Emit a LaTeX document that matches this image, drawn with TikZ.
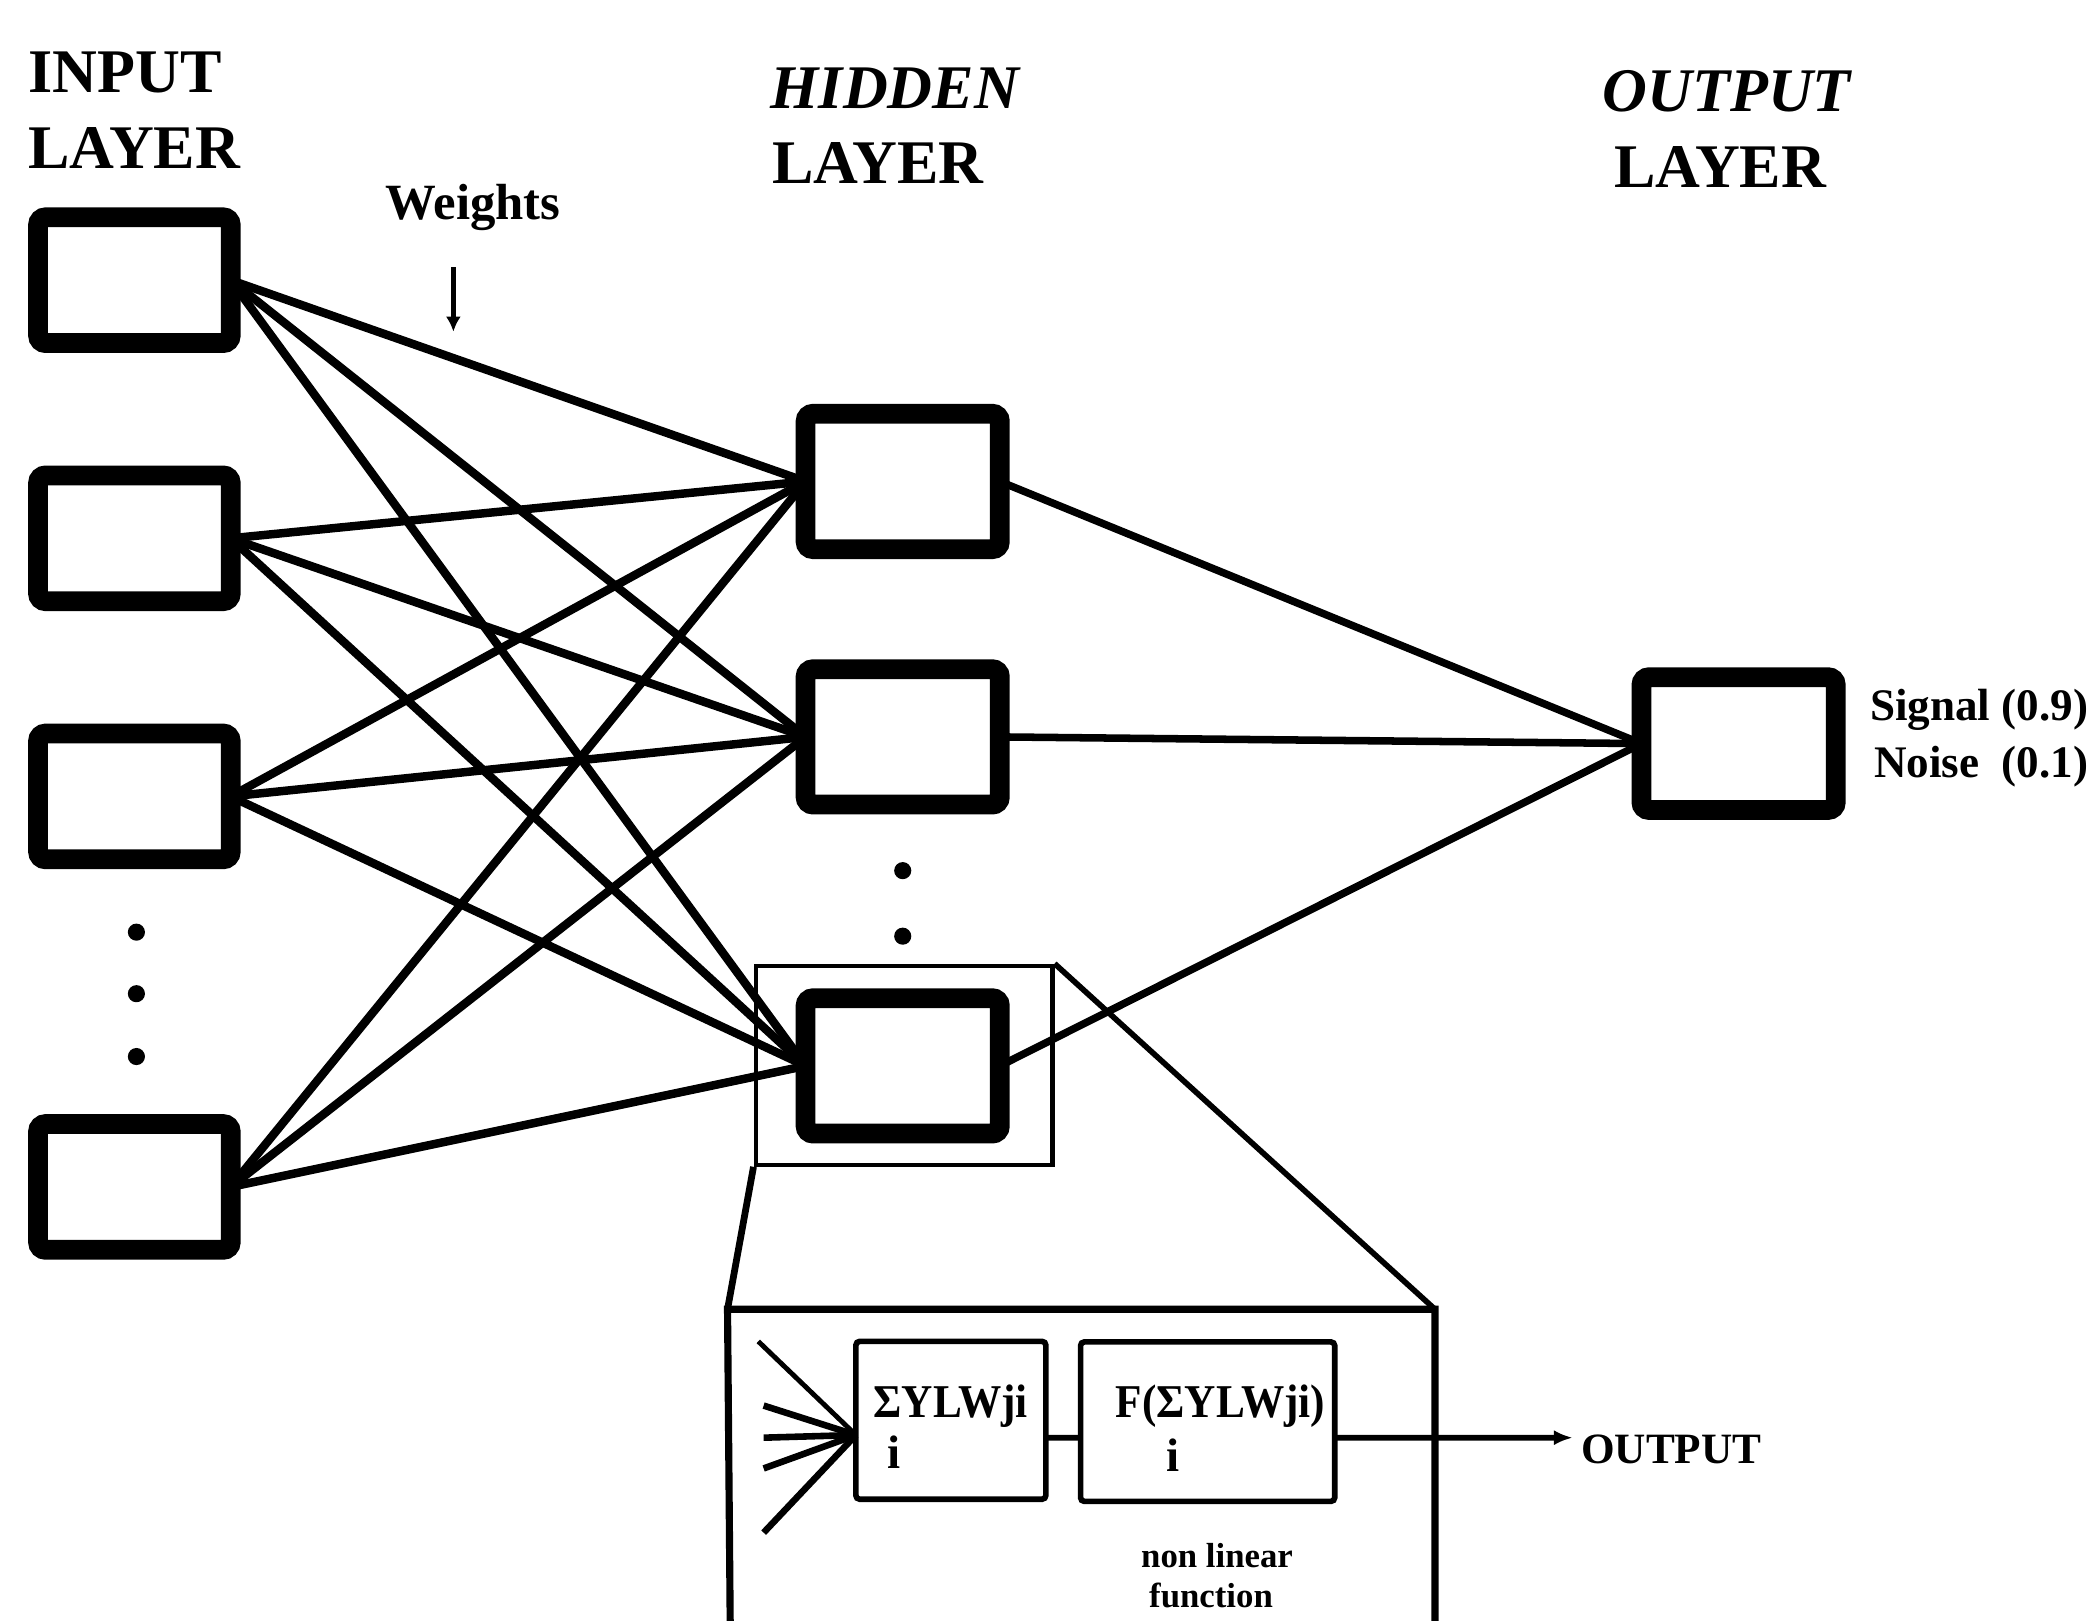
\documentclass[tikz,border=0pt]{standalone}
\usepackage{fontspec}
\setmainfont{Liberation Serif}
\usetikzlibrary{arrows.meta}
\newcommand{\cnd}[1]{\scalebox{0.92}[1]{#1}}
\begin{document}
\begin{tikzpicture}[x=0.025cm,y=-0.025cm,
  bigbox/.style={draw, line width=10.5pt, rounded corners=4pt, inner sep=0pt, outer sep=0pt},
  inbox/.style={bigbox, minimum width=3.6cm, minimum height=2.35cm},
  hidbox/.style={bigbox, minimum width=3.63cm, minimum height=2.53cm},
  outbox/.style={bigbox, minimum width=3.63cm, minimum height=2.48cm},
  wire/.style={line width=4.5pt},
  owire/.style={line width=4pt},
  smallbox/.style={draw, line width=3pt, rounded corners=2pt, inner sep=0pt, outer sep=0pt},
  ttl/.style={font=\fontsize{33}{36}\selectfont\bfseries, inner sep=0pt, anchor=base west},
  ittl/.style={font=\fontsize{33}{36}\selectfont\bfseries\itshape, inner sep=0pt, anchor=base west},
  lbl/.style={font=\fontsize{24}{26}\selectfont\bfseries, inner sep=0pt, anchor=base west},
  boxtxt/.style={font=\fontsize{25}{28}\selectfont\bfseries, inner sep=0pt, anchor=base west},
  small/.style={font=\fontsize{18.5}{20}\selectfont\bfseries, inner sep=0pt, anchor=base west},
  dotn/.style={circle, fill, inner sep=0pt, minimum size=0.32cm},
]
\useasboundingbox (0,0) rectangle (1568,1212);

% titles
\node[ttl] (tin1) at (21,69) {INPUT};
\node[ttl] (tin2) at (21,126) {LAYER};
\node[ittl] (thid1) at (576,81) {HIDDEN};
\node[ttl] (thid2) at (577,137) {LAYER};
\node[ittl] (tout1) at (1198,83) {OUTPUT};
\node[ttl] (tout2) at (1207,140) {LAYER};

% weights label
\node[ttl, font=\fontsize{27}{30}\selectfont\bfseries] (wt) at (288,164) {Weights};
\coordinate (wtop) at (339,200);
\coordinate (wtip) at (339,248);
\draw[line width=2.8pt, -{Latex[length=8pt,width=8pt]}] (wtop) -- (wtip);

% input layer
\node[inbox] (i1) at (100.5,209.5) {};
\node[inbox] (i2) at (100.5,402.5) {};
\node[inbox] (i3) at (100.5,595.5) {};
\node[inbox] (i4) at (100.5,887.5) {};
\node[dotn] (id1) at (102,697) {};
\node[dotn] (id2) at (102,743) {};
\node[dotn] (id3) at (102,790) {};

% hidden layer
\node[hidbox] (h1) at (675,360) {};
\node[hidbox] (h2) at (675,551) {};
\node[hidbox] (h3) at (675,797) {};
\node[dotn] (hd1) at (675,651) {};
\node[dotn] (hd2) at (675,700) {};

% output layer
\node[outbox] (o) at (1300,556) {};
\node[lbl] (sig) at (1398,539) {Signal (0.9)};
\node[lbl] (noi) at (1401,581) {Noise~~(0.1)};

% weights input -> hidden
\foreach \a in {i1,i2,i3,i4}{
  \foreach \b in {h1,h2,h3}{
    \draw[wire] (\a.east) -- (\b.west);
  }
}
% hidden -> output
\foreach \b in {h1,h2,h3}{
  \draw[owire] (\b.east) -- (o.west);
}

% highlight box around h3
\node[draw, line width=2.2pt, inner sep=0pt, minimum width=5.55cm, minimum height=3.72cm] (hl) at (676,796.5) {};

% inset
\coordinate (insTL) at (544,979);
\coordinate (insTR) at (1073,979);
\coordinate (insBL) at (546,1214);
\coordinate (insBR) at (1073,1214);
\draw[line width=3.8pt] (insBL) -- (insTL) -- (insTR) -- (insBR);
\draw[line width=3.6pt] (hl.south west) -- (insTL);
\draw[line width=3pt] (hl.north east) -- (insTR);

\node[smallbox, minimum width=3.55cm, minimum height=2.95cm] (A) at (711,1062) {};
\node[smallbox, minimum width=4.75cm, minimum height=2.98cm] (B) at (903,1063) {};
\node[boxtxt] (Atx) at (653,1060) {\cnd{ΣYLWji}};
\node[boxtxt] (Ai) at (663,1098) {i};
\node[boxtxt] (Btx) at (834,1060) {\cnd{F(ΣYLWji)}};
\node[boxtxt] (Bi) at (872,1100) {i};

\draw[line width=3pt] ([yshift=-0.325cm]A.east) -- ([yshift=-0.3cm]B.west);
\coordinate (outtip) at (1176,1075);
\draw[line width=3pt, -{Latex[length=10pt,width=8pt]}] ([yshift=-0.3cm]B.east) -- (outtip);
\node[lbl, font=\fontsize{23}{25}\selectfont\bfseries] (outl) at (1182,1094) {OUTPUT};

\coordinate (Ain) at ([yshift=-0.275cm]A.west);
\coordinate (f1) at (567,1003);
\coordinate (f2) at (571,1051);
\coordinate (f3) at (571,1075);
\coordinate (f4) at (571,1098);
\coordinate (f5) at (571,1146);
\draw[line width=2.6pt] (f1) -- (Ain);
\foreach \f in {f2,f3,f4,f5}{\draw[line width=3.5pt] (\f) -- (Ain);}

\node[small] (nl1) at (853,1172) {non linear};
\node[small] (nl2) at (859,1202) {function};
\end{tikzpicture}
\end{document}
